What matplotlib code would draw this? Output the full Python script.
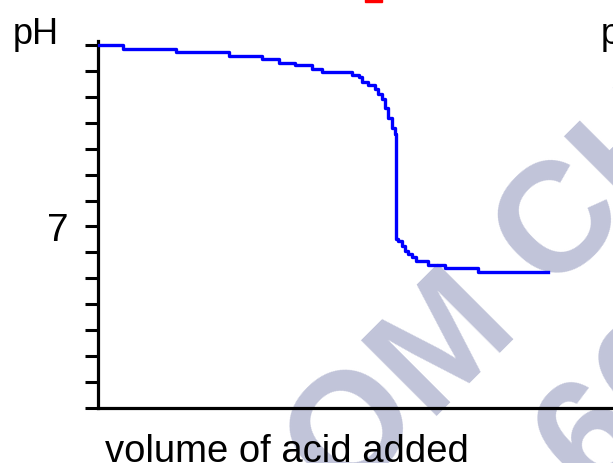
import matplotlib
matplotlib.use('Agg')
import matplotlib.pyplot as plt
from matplotlib.patches import Rectangle

# titration curve (volume in arbitrary units, pH)
volume = [0, 5, 15.6, 26.2, 32.8, 36.2, 39.4, 42.8, 44.8, 50.8, 52.2, 52.8, 54,
          55.4, 56, 56.8, 57.4, 58, 58.8, 59.4, 59.7, 60, 60.8, 61.4, 62, 62.8,
          63.6, 66, 69.4, 76, 90]
ph = [14.0, 13.83, 13.71, 13.59, 13.46, 13.32, 13.21, 13.07, 12.94, 12.82, 12.75,
      12.57, 12.47, 12.30, 12.10, 11.90, 11.57, 11.18, 10.80, 10.57, 6.52, 6.44,
      6.25, 6.05, 5.94, 5.82, 5.67, 5.51, 5.40, 5.24, 5.24]

ph_ticks = list(range(15))
ph_labels = ['7' if t == 7 else '' for t in ph_ticks]

W, H = 613, 464
fig = plt.figure(figsize=(W / 100, H / 100), dpi=100)
fig.patch.set_facecolor('white')

ax = fig.add_axes([98 / W, 55 / H, (700 - 98) / W, 367 / H])
ax.set_facecolor('none')
ax.step(volume, ph, where='post', color='#0000ff', lw=2.4, zorder=3)

ax.set_xlim(0, 120.4)
ax.set_ylim(0, 14.15)
for s in ['top', 'right']:
    ax.spines[s].set_visible(False)
ax.spines['left'].set_linewidth(2.3)
ax.spines['bottom'].set_linewidth(2.3)
ax.set_xticks([])
ax.set_yticks(ph_ticks)
ax.set_yticklabels(ph_labels, fontsize=28, family='Liberation Sans')
ax.tick_params(axis='y', length=9.5, width=2.2, direction='out', pad=12)

# axis texts
fig.text(13 / W, 1 - 44 / H, 'pH', fontsize=26, family='Liberation Sans', va='baseline')
fig.text(601 / W, 1 - 44 / H, 'pH', fontsize=26, family='Liberation Sans', va='baseline')
fig.text(105 / W, 2 / H, 'volume of acid added', fontsize=27.5, family='Liberation Sans',
         va='baseline')

# watermark
wm_color = '#c1c4d9'


def wm(ch, x, y):
    fig.text(x / W, 1 - y / H, ch, fontsize=112, family='Liberation Sans',
             weight='bold', color=wm_color, rotation=45, rotation_mode='anchor',
             ha='center', va='baseline', zorder=-1)


wm('O', 383, 460)
wm('M', 472, 370)
wm('C', 589, 252)
wm('H', 669, 172)
wm('6', 622, 468)
wm('6', 683, 407)

fig.patches.append(Rectangle((365 / W, 1 - 3 / H), 17 / W, 3 / H, color='red',
                             transform=fig.transFigure, figure=fig))

fig.savefig('out.png', dpi=100)
